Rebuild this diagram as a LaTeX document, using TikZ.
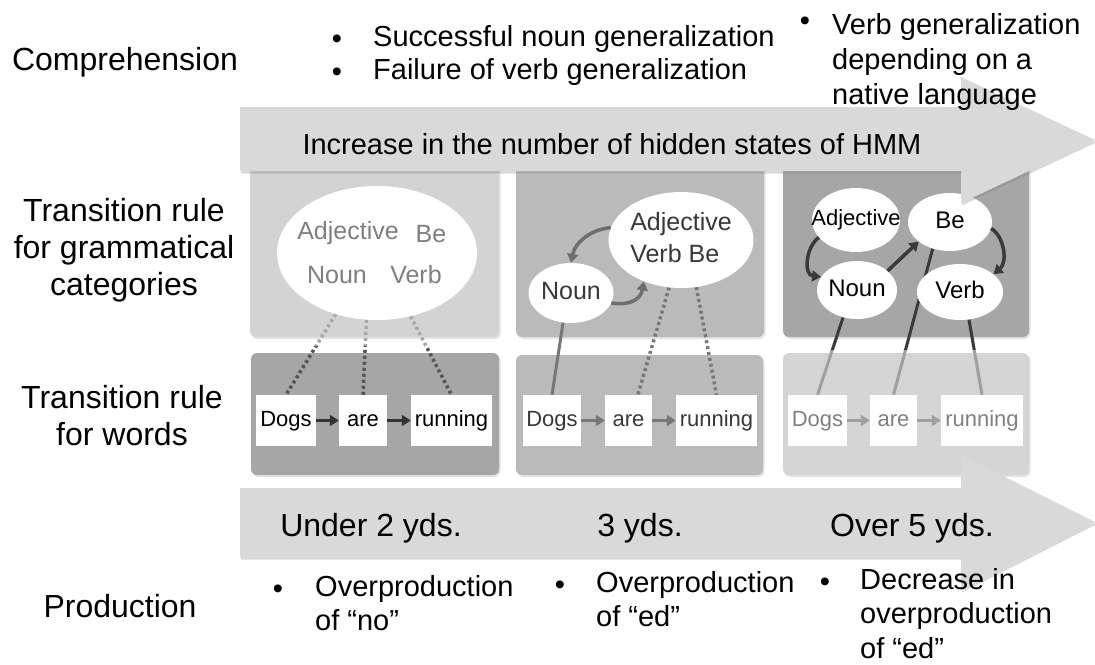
\documentclass[tikz,border=0pt]{standalone}
\usepackage{fontspec}
\setmainfont{Liberation Sans}
\usetikzlibrary{arrows.meta,shapes.geometric,shadows}
\pgfdeclarelayer{bglayer}
\pgfdeclarelayer{midlayer}
\pgfsetlayers{bglayer,midlayer,main}
\definecolor{arrowgray}{HTML}{D9D9D9}
\definecolor{pOneUp}{HTML}{D3D3D3}
\definecolor{pOneLo}{HTML}{A6A6A6}
\definecolor{pTwo}{HTML}{BABABA}
\definecolor{pThreeUp}{HTML}{A6A6A6}
\definecolor{pThreeLo}{HTML}{D5D5D5}
\definecolor{cOneTxt}{HTML}{7F7F7F}
\definecolor{cOneDotLight}{HTML}{A8A8A8}
\definecolor{cOneDotDark}{HTML}{555555}
\definecolor{cOneWArrow}{HTML}{333333}
\definecolor{cTwoTxt}{HTML}{383838}
\definecolor{cTwoLine}{HTML}{777777}
\definecolor{cTwoArrow}{HTML}{6E6E6E}
\definecolor{cThreeDark}{HTML}{3A3A3A}
\definecolor{cThreeLight}{HTML}{A0A0A0}
\definecolor{cThreeTxt}{HTML}{808080}
\begin{document}
\begin{tikzpicture}[x=1pt,y=-1pt,
  panel/.style={rounded corners=6pt, drop shadow={shadow xshift=1.5pt, shadow yshift=-2pt, opacity=0.22}},
  bigarrow/.style={fill=arrowgray, drop shadow={shadow xshift=1pt, shadow yshift=-2.5pt, opacity=0.3}},
  lbl/.style={font=\fontsize{32}{37}\selectfont, align=center, inner sep=0pt},
  bul/.style={font=\fontsize{29}{34}\selectfont, align=left, inner sep=0pt, anchor=west},
  bulmark/.style={font=\fontsize{29}{34}\selectfont, inner sep=0pt, anchor=base},
  steptxt/.style={font=\fontsize{32}{38}\selectfont, inner sep=0pt},
  wordbox/.style={fill=white, minimum height=51pt, inner sep=0pt, text height=16pt, text depth=5pt, font=\fontsize{22}{26}\selectfont},
  cat/.style={ellipse, fill=white, inner sep=0pt, font=\fontsize{25}{32}\selectfont},
  catword/.style={inner sep=0pt, text height=17pt, text depth=5pt, font=\fontsize{25}{31}\selectfont},
  wordarrow/.style={line width=3pt, -{Triangle[length=9pt,width=11pt]}},
  catarrow/.style={line width=3.5pt, -{Triangle[length=9pt,width=11pt]}},
  dotline/.style={line width=3.5pt, dash pattern=on 3pt off 3pt},
  solidline/.style={line width=3pt},
]
\useasboundingbox (0,0) rectangle (1095,664);

% panels
\begin{pgfonlayer}{bglayer}
\fill[panel, fill=pOneUp] (250,150) rectangle (499,337);
\fill[panel, fill=pTwo] (516,150) rectangle (764,337);
\fill[panel, fill=pThreeUp] (783,150) rectangle (1029,337);
\fill[panel, fill=pOneLo] (251,353) rectangle (499,475);
\fill[panel, fill=pTwo] (516,355) rectangle (763,475);
\fill[panel, fill=pThreeLo] (783,353) rectangle (1029,475);
\end{pgfonlayer}

% column 1 upper
\node[cat, minimum width=200pt, minimum height=134pt] (ell1) at (377,253) {};
\node[catword, text=cOneTxt] (adj1) at (348,233) {Adjective};
\node[catword, text=cOneTxt] (be1) at (431,236) {Be};
\node[catword, text=cOneTxt] (noun1) at (337,277) {Noun};
\node[catword, text=cOneTxt] (verb1) at (416,277) {Verb};

% column 1 lower
\node[wordbox, minimum width=60pt] (dogs1) at (286,420.5) {Dogs};
\node[wordbox, minimum width=48pt] (are1) at (363,420.5) {are};
\node[wordbox, minimum width=81pt] (run1) at (451.5,420.5) {running};
\draw[wordarrow, cOneWArrow] (dogs1) -- (are1);
\draw[wordarrow, cOneWArrow] (are1) -- (run1);

\begin{pgfonlayer}{midlayer}
\begin{scope}
  \clip (240,300) rectangle (510,346);
  \draw[dotline, cOneDotLight] (ell1.236) -- (dogs1.north);
  \draw[dotline, cOneDotLight] (ell1.261) -- (are1.north);
  \draw[dotline, cOneDotLight] (ell1.298) -- (run1.north);
\end{scope}
\begin{scope}
  \clip (240,346) rectangle (510,400);
  \draw[dotline, cOneDotDark] (ell1.236) -- (dogs1.north);
  \draw[dotline, cOneDotDark] (ell1.261) -- (are1.north);
  \draw[dotline, cOneDotDark] (ell1.298) -- (run1.north);
\end{scope}
\end{pgfonlayer}

% column 2 upper
\node[cat, minimum width=145pt, minimum height=96pt, text=cTwoTxt] (ell2) at (681,240)
  {\makebox[0pt]{\begin{tabular}{@{}l@{}}Adjective\\Verb Be\end{tabular}}};
\node[cat, minimum width=85pt, minimum height=60pt, text=cTwoTxt, text height=17pt, text depth=5pt] (noun2) at (571,293) {\makebox[0pt]{Noun}};
\draw[catarrow, cTwoArrow] (ell2.170) .. controls (592,229) and (575,242) .. (noun2.north);
\draw[catarrow, cTwoArrow] (noun2.346) .. controls (632,306) and (641,298) .. (ell2.228);

% column 2 lower
\node[wordbox, minimum width=58pt, text=cTwoTxt] (dogs2) at (552,420.5) {Dogs};
\node[wordbox, minimum width=47pt, text=cTwoTxt] (are2) at (628.5,420.5) {are};
\node[wordbox, minimum width=81pt, text=cTwoTxt] (run2) at (716.5,420.5) {running};
\draw[wordarrow, cTwoLine] (dogs2) -- (are2);
\draw[wordarrow, cTwoLine] (are2) -- (run2);
\begin{pgfonlayer}{midlayer}
\draw[solidline, cTwoLine] (noun2.255) -- (dogs2.north);
\draw[dotline, cTwoLine] (ell2.256) -- (are2.70);
\draw[dotline, cTwoLine] (ell2.288) -- (run2.north);
\end{pgfonlayer}

% column 3 upper
\node[cat, minimum width=88pt, minimum height=64pt, font=\fontsize{22}{26}\selectfont, text height=16pt, text depth=5pt] (adj3) at (856,220) {\makebox[0pt]{Adjective}};
\node[cat, minimum width=84pt, minimum height=58pt, font=\fontsize{24}{30}\selectfont, text height=17pt, text depth=5pt] (be3) at (950,222) {\makebox[0pt]{Be}};
\node[cat, minimum width=80pt, minimum height=58pt, font=\fontsize{24}{30}\selectfont, text height=17pt, text depth=5pt] (noun3) at (857,290) {\makebox[0pt]{Noun}};
\node[cat, minimum width=86pt, minimum height=56pt, font=\fontsize{24}{30}\selectfont, text height=17pt, text depth=5pt] (verb3) at (960,292) {\makebox[0pt]{Verb}};
\draw[catarrow, cThreeDark] (adj3.205) .. controls (805,248) and (804,275) .. (noun3.160);
\draw[catarrow, cThreeDark] (noun3.32) -- (be3.212);
\draw[catarrow, cThreeDark] (be3.351) .. controls (1004,236) and (1008,262) .. (verb3.28);

% column 3 lower
\node[wordbox, minimum width=59pt, text=cThreeTxt] (dogs3) at (817.5,420.5) {Dogs};
\node[wordbox, minimum width=47pt, text=cThreeTxt] (are3) at (893.5,420.5) {are};
\node[wordbox, minimum width=82pt, text=cThreeTxt] (run3) at (982,420.5) {running};
\draw[wordarrow, cThreeLight] (dogs3) -- (are3);
\draw[wordarrow, cThreeLight] (are3) -- (run3);
\begin{pgfonlayer}{midlayer}
\begin{scope}
  \clip (775,240) rectangle (1040,350);
  \draw[solidline, cThreeDark] (noun3.243) -- (dogs3.north);
  \draw[solidline, cThreeDark] (be3.237) -- (are3.north);
  \draw[solidline, cThreeDark] (verb3.288) -- (run3.north);
\end{scope}
\begin{scope}
  \clip (775,350) rectangle (1040,400);
  \draw[solidline, cThreeLight] (noun3.243) -- (dogs3.north);
  \draw[solidline, cThreeLight] (be3.237) -- (are3.north);
  \draw[solidline, cThreeLight] (verb3.288) -- (run3.north);
\end{scope}
\end{pgfonlayer}

% big arrows
\fill[bigarrow] (240,107) -- (961,107) -- (961,77) -- (1095,140) -- (961,203) -- (961,171) -- (240,171) -- cycle;
\fill[bigarrow] (240,488) -- (961,488) -- (961,455) -- (1095,522) -- (961,590) -- (961,557) -- (240,557) -- cycle;
\node[inner sep=0pt, font=\fontsize{29}{34}\selectfont] (hmm) at (612,144.5) {Increase in the number of hidden states of HMM};
\node[steptxt] (age1) at (371,528.6) {Under 2 yds.};
\node[steptxt] (age2) at (640,528.6) {3 yds.};
\node[steptxt] (age3) at (912,528.6) {Over 5 yds.};

% left labels
\node[lbl] (comp) at (125,62) {Comprehension};
\node[lbl] (trcat) at (124,250) {Transition rule\\for grammatical\\categories};
\node[lbl] (trword) at (122,416) {Transition rule\\for words};
\node[lbl] (prod) at (120,606) {Production};

% comprehension bullets
\node[bulmark] (cbm1) at (337,48) {•};
\node[bulmark] (cbm2) at (337,81) {•};
\node[bul, font=\fontsize{29}{33}\selectfont] (cb1) at (373,56) {Successful noun generalization\\Failure of verb generalization};
\node[bulmark] (cbm3) at (805,30) {•};
\node[bul, font=\fontsize{29}{35}\selectfont] (cb2) at (832,61.5) {Verb generalization\\depending on a\\native language};

% production bullets
\node[bulmark] (pbm1) at (278,598) {•};
\node[bul] (pb1) at (315,603.5) {Overproduction\\of “no”};
\node[bulmark] (pbm2) at (560,594) {•};
\node[bul] (pb2) at (596,599.5) {Overproduction\\of “ed”};
\node[bulmark] (pbm3) at (825,591) {•};
\node[bul, font=\fontsize{29}{34.5}\selectfont] (pb3) at (860,613.5) {Decrease in\\overproduction\\of “ed”};
\end{tikzpicture}
\end{document}
